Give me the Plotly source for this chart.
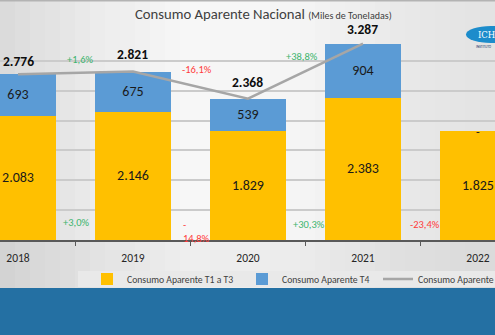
import plotly.graph_objects as go

# ---------------- data ----------------
years = ["2018", "2019", "2020", "2021", "2022"]
t1_t3 = [2083, 2146, 1829, 2383, 1825]
t4 = [693, 675, 539, 904, 0]
total_nacional = [2776, 2821, 2368, 3287, None]

t1_t3_labels = ["2.083", "2.146", "1.829", "2.383", "1.825"]
t4_labels = ["693", "675", "539", "904", "-"]
total_labels = ["2.776", "2.821", "2.368", "3.287", ""]

total_change_labels = ["+1,6%", "-16,1%", "+38,8%"]
t1_t3_change_labels = ["+3,0%", "-<br>14,8%", "+30,3%", "-23,4%"]

# ---------------- style ----------------
FONT = "Carlito, Liberation Sans Narrow, Lato, sans-serif"
YELLOW = "#ffc000"
BLUE = "#5b9bd5"
GREY_LINE = "#a6a6a6"
GREEN = "#3cb46e"
RED = "#ff3b3b"

W, H = 495, 335
T, B = 31, 95
PLOT_H = H - T - B
BASE_PX = H - B


def py(p):
    """pixel y -> paper y"""
    return (BASE_PX - p) / PLOT_H


def px(p):
    return p / W


fig = go.Figure()

fig.add_trace(go.Bar(
    x=years, y=t1_t3, name="Consumo Aparente T1 a T3",
    marker=dict(color=YELLOW, line=dict(width=0)),
    text=t1_t3_labels, texttemplate="%{text}", textposition="inside",
    insidetextanchor="middle", textangle=0,
    textfont=dict(family=FONT, size=14, color="#1a1a1a"),
    width=0.66, legend="legend",
))
fig.add_trace(go.Bar(
    x=years, y=t4, name="Consumo Aparente T4",
    marker=dict(color=BLUE, line=dict(width=0)),
    text=t4_labels, texttemplate="%{text}", textposition="inside",
    insidetextanchor="middle", textangle=0,
    textfont=dict(family=FONT, size=14, color="#1a1a1a"),
    width=0.66, legend="legend2",
))
fig.add_trace(go.Scatter(
    x=years, y=total_nacional, name="Consumo Aparente Nacional",
    mode="lines", line=dict(color=GREY_LINE, width=2.5), legend="legend3",
))

# total labels above the line points
total_shift = [12.5, 17, 16, 14, 0]
for i, v in enumerate(total_nacional):
    if v is not None:
        fig.add_annotation(x=i, y=v, xref="x", yref="y", text="<b>%s</b>" % total_labels[i],
                           showarrow=False, yanchor="middle", yshift=total_shift[i],
                           font=dict(family=FONT, size=13.5, color="#0d0d0d"))

# label for zero-height T4 bars
for i, v in enumerate(t4):
    if v == 0:
        fig.add_annotation(x=i, y=t1_t3[i], xref="x", yref="y", text=t4_labels[i], showarrow=False,
                           yanchor="middle", yshift=-1,
                           font=dict(family=FONT, size=12, color="#1a1a1a"))

# change labels (total)
tot_pos = [(0.54, 3018), (1.556, 2851), (2.47, 3069)]
for (xx, yy), lab in zip(tot_pos, total_change_labels):
    fig.add_annotation(x=xx, y=yy, text=lab, showarrow=False, xref="x", yref="y",
                       font=dict(family=FONT, size=10.5, color=GREEN if lab.startswith("+") else RED))

# change labels (T1 a T3)
low_pos = [(0.504, 285, "center"), (1.417, 145, "left"), (2.53, 268, "center"), (3.54, 268, "center")]
for (xx, yy, anc), lab in zip(low_pos, t1_t3_change_labels):
    fig.add_annotation(x=xx, y=yy, text=lab, showarrow=False, xref="x", yref="y",
                       xanchor=anc, align="left",
                       font=dict(family=FONT, size=10.5, color=GREEN if lab.startswith("+") else RED))

# ---------------- background shapes ----------------
shapes = []
stops = [(0, 218), (100, 236), (190, 247), (300, 245), (400, 233), (495, 226)]


def grey_at(xp):
    for (x0, g0), (x1, g1) in zip(stops[:-1], stops[1:]):
        if x0 <= xp <= x1:
            return g0 + (g1 - g0) * (xp - x0) / (x1 - x0)
    return stops[-1][1]


step = 15
for x0 in range(0, W, step):
    g = int(round(grey_at(x0 + step / 2)))
    shapes.append(dict(type="rect", xref="paper", yref="paper", layer="below",
                       x0=px(x0), x1=px(min(x0 + step + 1, W)), y0=py(288), y1=py(0),
                       fillcolor="rgb(%d,%d,%d)" % (g, g, g), line=dict(width=0)))
shapes.append(dict(type="rect", xref="paper", yref="paper", layer="below",
                   x0=0, x1=1, y0=py(288), y1=py(242),
                   fillcolor="rgba(0,0,0,0.035)", line=dict(width=0)))
# legend strip
shapes.append(dict(type="rect", xref="paper", yref="paper", layer="below",
                   x0=px(78), x1=1, y0=py(287), y1=py(271),
                   fillcolor="#e9e9e9", line=dict(width=0)))
# blue band
shapes.append(dict(type="rect", xref="paper", yref="paper", layer="above",
                   x0=0, x1=1, y0=py(H), y1=py(288),
                   fillcolor="#2470a3", line=dict(width=0)))
# top border line
shapes.append(dict(type="rect", xref="paper", yref="paper", layer="above",
                   x0=0, x1=1, y0=py(1.5), y1=py(0),
                   fillcolor="#b3b3b3", line=dict(width=0)))
# logo ellipse
shapes.append(dict(type="circle", xref="paper", yref="paper", layer="above",
                   x0=px(466), x1=px(516), y0=py(43), y1=py(26),
                   fillcolor="#1c8ccb", line=dict(width=0)))

fig.add_annotation(xref="paper", yref="paper", x=px(476), y=py(35), text="ICH",
                   showarrow=False, xanchor="left", yanchor="middle",
                   font=dict(family="DejaVu Serif", size=8.5, color="white"))
fig.add_annotation(xref="paper", yref="paper", x=px(474), y=py(47), text="INSTITUTO",
                   showarrow=False, xanchor="left", yanchor="middle",
                   font=dict(family=FONT, size=3.5, color="#1b3a6b"))

legend_common = dict(orientation="h", xanchor="left", y=py(279), yanchor="middle",
                     bgcolor="rgba(0,0,0,0)", font=dict(family=FONT, size=9.7, color="#404040"),
                     itemwidth=30)

fig.update_layout(
    width=W, height=H,
    margin=dict(l=0, r=0, t=T, b=B, pad=0, autoexpand=False),
    paper_bgcolor="#e2e2e2", plot_bgcolor="rgba(0,0,0,0)",
    barmode="stack", bargap=0.34,
    shapes=shapes,
    font=dict(family=FONT, color="#404040"),
    title=dict(
        text="Consumo Aparente Nacional <span style='font-size:10px'>(Miles de Toneladas)</span>",
        x=px(135), xanchor="left", xref="container", y=1 - 14 / H, yanchor="middle",
        yref="container", font=dict(family=FONT, size=14.7, color="#404040"),
    ),
    xaxis=dict(
        type="category", range=[-0.1565, 4.148], showgrid=False,
        showline=True, linecolor="#595959", linewidth=1.5,
        ticks="outside", tickson="boundaries", ticklen=4, tickcolor="#595959", tickwidth=1,
        tickfont=dict(family=FONT, size=11.5, color="#262626"), ticklabelstandoff=6,
        fixedrange=True,
    ),
    yaxis=dict(
        range=[0, 3500], showgrid=True, gridcolor="#cbcbcb", gridwidth=1.5, dtick=500,
        showticklabels=False, zeroline=False, showline=False, fixedrange=True,
    ),
    legend=dict(x=px(87), **legend_common),
    legend2=dict(x=px(242), **legend_common),
    legend3=dict(x=px(378), **legend_common),
    showlegend=True,
)

fig.write_html("out.html")
